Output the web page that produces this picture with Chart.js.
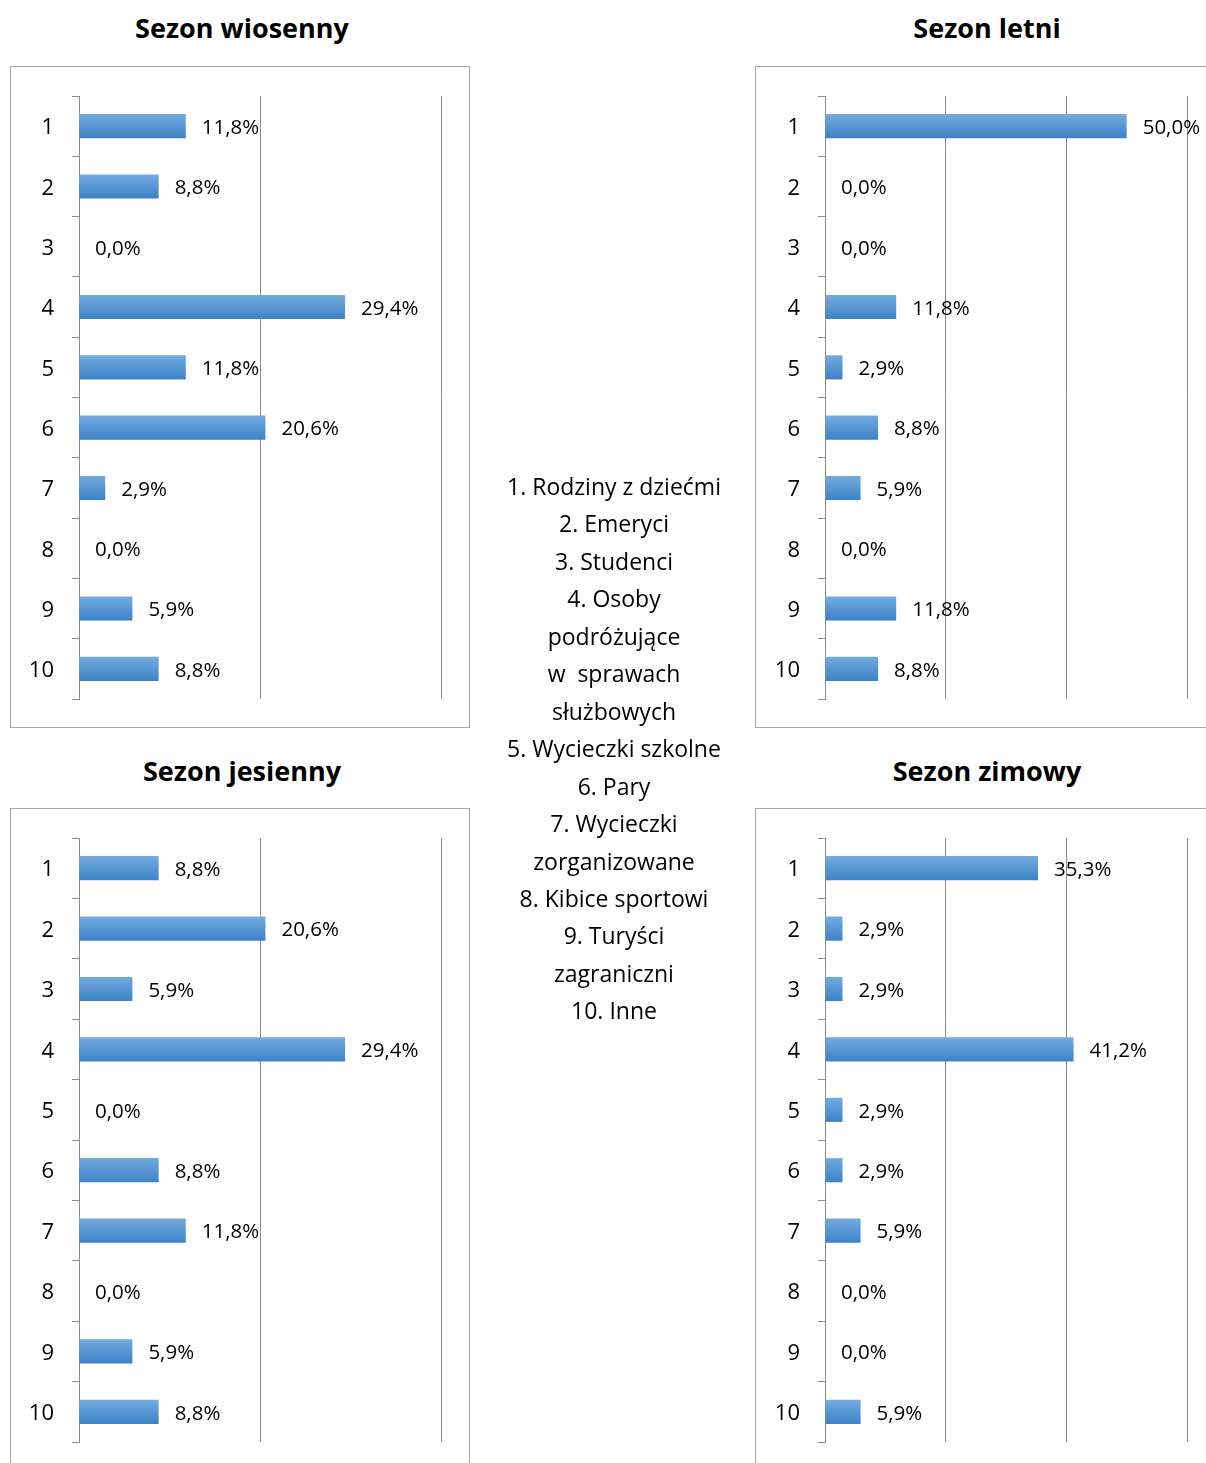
<!DOCTYPE html>
<html lang="pl">
<head>
<meta charset="utf-8">
<title>Sezony</title>
<script src="https://cdn.jsdelivr.net/npm/chart.js@4.4.1/dist/chart.umd.min.js"></script>
<style>
  html, body { margin: 0; padding: 0; background: #fff; }
  body { width: 1206px; height: 1463px; position: relative; overflow: hidden; font-family: 'Open Sans', sans-serif; }
  .title { position: absolute; width: 460px; text-align: center; font-weight: bold; font-size: 27px; line-height: 30px; color: #000; }
  .box { position: absolute; width: 460px; height: 662px; box-sizing: border-box; border: 1px solid #a6a6a6; }
  canvas.chart { position: absolute; }
  #legend { position: absolute; left: 470px; width: 288px; top: 468px; text-align: center; font-size: 23px; line-height: 37.45px; white-space: pre; color: #000; }
</style>
</head>
<body>

<div class="title" style="left:12px; top:13px;">Sezon wiosenny</div>
<div class="title" style="left:757px; top:13px;">Sezon letni</div>
<div class="title" style="left:12px; top:756px;">Sezon jesienny</div>
<div class="title" style="left:757px; top:756px;">Sezon zimowy</div>

<div class="box" style="left:10px; top:66px;"></div>
<div class="box" style="left:755px; top:66px;"></div>
<div class="box" style="left:10px; top:808px;"></div>
<div class="box" style="left:755px; top:808px;"></div>

<canvas class="chart" id="c-wiosna" style="left:10px; top:66px;"></canvas>
<canvas class="chart" id="c-lato" style="left:755px; top:66px;"></canvas>
<canvas class="chart" id="c-jesien" style="left:10px; top:808px;"></canvas>
<canvas class="chart" id="c-zima" style="left:755px; top:808px;"></canvas>

<div id="legend"></div>

<script>
// kategorie (numery grup)
const categories = ['1', '2', '3', '4', '5', '6', '7', '8', '9', '10'];

// udział procentowy w poszczególnych sezonach
const wiosenny = [11.8, 8.8, 0.0, 29.4, 11.8, 20.6, 2.9, 0.0, 5.9, 8.8];
const letni    = [50.0, 0.0, 0.0, 11.8, 2.9, 8.8, 5.9, 0.0, 11.8, 8.8];
const jesienny = [8.8, 20.6, 5.9, 29.4, 0.0, 8.8, 11.8, 0.0, 5.9, 8.8];
const zimowy   = [35.3, 2.9, 2.9, 41.2, 2.9, 2.9, 5.9, 0.0, 0.0, 5.9];

// maksimum osi X (lewe / prawe wykresy)
const axisMaxLeft = 40;
const axisMaxRight = 60;
const axisStep = 20;

// opis grup (środkowa kolumna)
const legendLines = [
  '1. Rodziny z dziećmi',
  '2. Emeryci',
  '3. Studenci',
  '4. Osoby',
  'podróżujące',
  'w  sprawach',
  'służbowych',
  '5. Wycieczki szkolne',
  '6. Pary',
  '7. Wycieczki',
  'zorganizowane',
  '8. Kibice sportowi',
  '9. Turyści',
  'zagraniczni',
  '10. Inne'
];

document.getElementById('legend').textContent = legendLines.join('\n');

const GRID = '#8c8c8c';
const FONT = "'Open Sans', sans-serif";

// etykiety wartości za słupkami
const valueLabels = {
  id: 'valueLabels',
  afterDatasetsDraw(chart) {
    const ctx = chart.ctx;
    const meta = chart.getDatasetMeta(0);
    const values = chart.data.datasets[0].data;
    ctx.save();
    ctx.font = '20.5px ' + FONT;
    ctx.fillStyle = '#000';
    ctx.textAlign = 'left';
    ctx.textBaseline = 'middle';
    meta.data.forEach((bar, i) => {
      const txt = values[i].toFixed(1).replace('.', ',') + '%';
      ctx.fillText(txt, bar.x + 16, bar.y + 2);
    });
    ctx.restore();
  }
};

function barGradient(c) {
  const chart = c.chart;
  const area = chart.chartArea;
  if (!area || c.type !== 'data') return '#4a8fd4';
  const y = chart.scales.y.getPixelForValue(c.dataIndex);
  const h = (area.bottom - area.top) / categories.length * 0.4;
  const g = chart.ctx.createLinearGradient(0, y - h / 2, 0, y + h / 2);
  g.addColorStop(0, '#74abdf');
  g.addColorStop(1, '#3c82c8');
  return g;
}

function makeChart(id, values, max, pad, axisWidth) {
  const canvas = document.getElementById(id);
  canvas.width = 460;
  canvas.height = 662;
  canvas.style.width = '460px';
  canvas.style.height = '662px';
  return new Chart(canvas, {
    type: 'bar',
    data: {
      labels: categories,
      datasets: [{
        data: values,
        backgroundColor: barGradient,
        borderWidth: 0,
        barPercentage: 0.4,
        categoryPercentage: 1.0
      }]
    },
    options: {
      indexAxis: 'y',
      responsive: false,
      animation: false,
      devicePixelRatio: 1,
      layout: { padding: pad },
      plugins: {
        legend: { display: false },
        tooltip: { enabled: false },
        title: { display: false }
      },
      scales: {
        x: {
          min: 0,
          max: max,
          ticks: { display: false, stepSize: axisStep },
          grid: { color: GRID, lineWidth: 1, drawTicks: false },
          border: { display: false },
          afterFit: (s) => { s.height = 0; s.paddingLeft = 0; s.paddingRight = 0; }
        },
        y: {
          offset: true,
          grid: { offset: true, drawOnChartArea: false, drawTicks: true, tickLength: 7, color: GRID },
          border: { display: true, color: GRID, width: 1 },
          ticks: { color: '#000', padding: 18, labelOffset: 2, font: { family: FONT, size: 22 } },
          afterFit: (s) => { s.width = axisWidth; s.paddingTop = 0; s.paddingBottom = 0; }
        }
      }
    },
    plugins: [valueLabels]
  });
}

makeChart('c-wiosna', wiosenny, axisMaxLeft, { left: 0, right: 29, top: 30, bottom: 29 }, 69);
makeChart('c-lato', letni, axisMaxRight, { left: 0, right: 28, top: 30, bottom: 29 }, 70);
makeChart('c-jesien', jesienny, axisMaxLeft, { left: 0, right: 29, top: 30, bottom: 28 }, 69);
makeChart('c-zima', zimowy, axisMaxRight, { left: 0, right: 28, top: 30, bottom: 28 }, 70);
</script>
</body>
</html>
